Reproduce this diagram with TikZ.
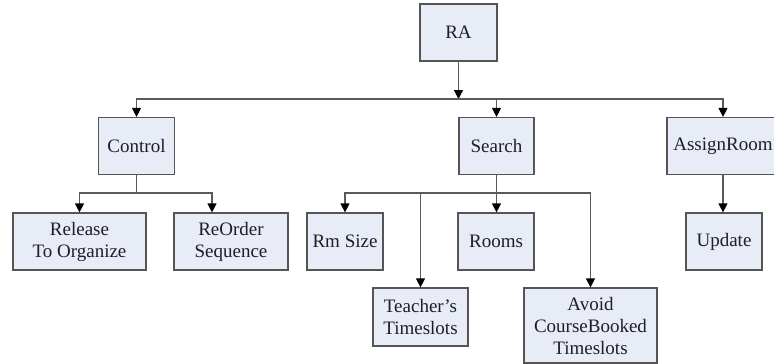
\documentclass[tikz,border=0pt]{standalone}
\usepackage{fontspec}
\setmainfont{Liberation Serif}
\usetikzlibrary{arrows.meta}
\definecolor{boxfill}{RGB}{232,236,246}
\definecolor{boxline}{RGB}{85,85,85}
\definecolor{conn}{RGB}{90,90,90}
\definecolor{txt}{RGB}{30,30,40}
\begin{document}
\begin{tikzpicture}[x=1pt,y=-1pt,
  box/.style={draw=boxline,line width=1.2pt,fill=boxfill,inner sep=0pt,
    minimum height=57pt,align=center,text=txt,font=\fontsize{19}{22}\selectfont},
  conline/.style={draw=conn,line width=1.2pt},
  arr/.style={conline,-{Triangle[width=9pt,length=9pt,fill=black,color=black]}}]
\useasboundingbox (0,0) rectangle (774,364);
\node[box,minimum width=77pt] (RA) at (458.5,32.5) {RA};
\node[box,minimum width=76pt] (Control) at (136.5,146) {Control};
\node[box,minimum width=75pt] (Search) at (496.5,146) {Search};
\node[box,minimum width=112pt] (AssignRoom) at (723,146) {AssignRoom};
\node[box,minimum width=133pt] (Release) at (79.5,241.5) {Release\\To Organize};
\node[box,minimum width=114pt] (ReOrder) at (231,241.5) {ReOrder\\Sequence};
\node[box,minimum width=76pt] (RmSize) at (345,241.5) {Rm Size};
\node[box,minimum width=76pt] (Rooms) at (496,241.5) {Rooms};
\node[box,minimum width=76pt] (Update) at (724,241.5) {Update};
\node[box,minimum width=95pt,minimum height=58pt] (Teacher) at (420.5,317) {Teacher's\\Timeslots};
\node[box,minimum width=133pt,minimum height=75pt] (Avoid) at (590.5,325.5) {Avoid\\CourseBooked\\Timeslots};
\coordinate (b1) at (458.5,99);
\coordinate (b2) at (136.5,193);
\coordinate (b3) at (496.5,193);
% RA level
\draw[arr] (RA.south) -- (b1);
\draw[arr] (b1) -| (Control.north);
\draw[arr] (b1) -| (Search.north);
\draw[arr] (b1) -| (AssignRoom.north);
% Control level
\draw[conline] (Control.south) -- (b2);
\draw[arr] (b2) -| (Release.north);
\draw[arr] (b2) -| ([xshift=-19pt]ReOrder.north);
% Search level
\draw[conline] (Search.south) -- (b3);
\draw[arr] (b3) -| (RmSize.north);
\draw[arr] (b3) -| (Teacher.north);
\draw[arr] (b3) -- (b3 |- Rooms.north);
\draw[arr] (b3) -| (Avoid.north);
% AssignRoom level
\draw[arr] (AssignRoom.south) -- (AssignRoom.south |- Update.north);
\end{tikzpicture}
\end{document}
